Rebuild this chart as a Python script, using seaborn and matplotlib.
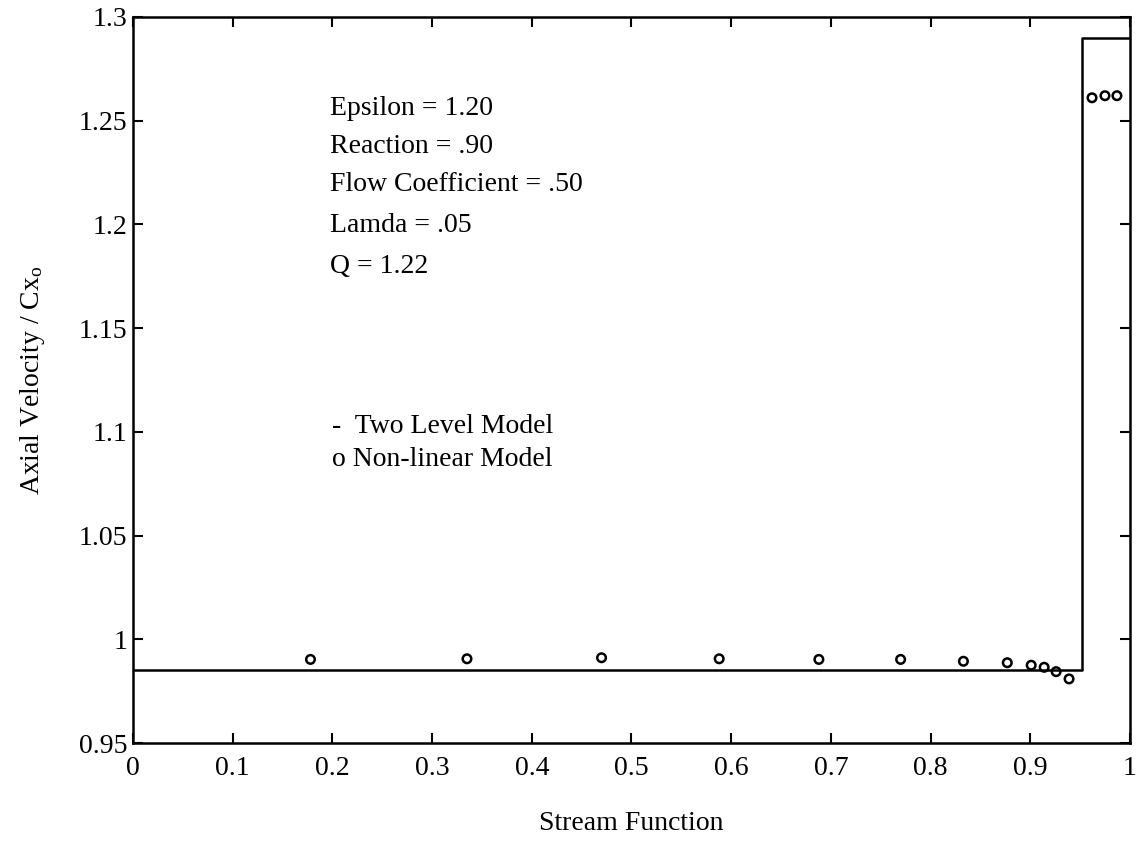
import numpy as np
import pandas as pd
import matplotlib
matplotlib.use("Agg")
import matplotlib.pyplot as plt
import seaborn as sns

# Two level model (step line)
step_x = [0.0, 0.952, 1.0]
step_y = [0.985, 1.29, 1.29]

# Non-linear model points
nl_x = [0.178, 0.335, 0.470, 0.588, 0.688, 0.770, 0.833, 0.877, 0.901,
        0.914, 0.926, 0.939, 0.962, 0.975, 0.987]
nl_y = [0.9903, 0.9906, 0.9911, 0.9906, 0.9903, 0.9903, 0.9894, 0.9887,
        0.9875, 0.9865, 0.9844, 0.9809, 1.261, 1.262, 1.262]

xticks = [0, 0.1, 0.2, 0.3, 0.4, 0.5, 0.6, 0.7, 0.8, 0.9, 1]
xticklabels = ["0", "0.1", "0.2", "0.3", "0.4", "0.5", "0.6", "0.7", "0.8", "0.9", "1"]
yticks = [0.95, 1.0, 1.05, 1.1, 1.15, 1.2, 1.25, 1.3]
yticklabels = ["0.95", "1", "1.05", "1.1", "1.15", "1.2", "1.25", "1.3"]

params = ["Epsilon = 1.20", "Reaction = .90", "Flow Coefficient = .50",
          "Lamda = .05", "Q = 1.22"]
legend_lines = ["-  Two Level Model", "o Non-linear Model"]

sns.set_theme(style="ticks")
plt.rcParams["font.family"] = ["Liberation Serif", "DejaVu Serif"]
plt.rcParams["mathtext.fontset"] = "custom"
plt.rcParams["mathtext.rm"] = "Liberation Serif"
plt.rcParams["mathtext.it"] = "Liberation Serif:italic"
plt.rcParams["text.color"] = "black"
plt.rcParams["axes.labelcolor"] = "black"
plt.rcParams["xtick.color"] = "black"
plt.rcParams["ytick.color"] = "black"

fig = plt.figure(figsize=(11.39, 8.43), dpi=100)
ax = fig.add_axes([0.1168, 0.1186, 0.992 - 0.1168, 0.980 - 0.1186])

step_df = pd.DataFrame({"x": step_x, "y": step_y})
sns.lineplot(data=step_df, x="x", y="y", ax=ax, color="black", linewidth=1.8,
             drawstyle="steps-post", estimator=None, sort=False)

nl_df = pd.DataFrame({"x": nl_x, "y": nl_y})
sns.scatterplot(data=nl_df, x="x", y="y", ax=ax, marker="o", s=38,
                facecolors="none", edgecolors="black", linewidth=1.8)

ax.set_xlim(0, 1)
ax.set_ylim(0.95, 1.3)
ax.set_xticks(xticks)
ax.set_xticklabels(xticklabels)
ax.set_yticks(yticks)
ax.set_yticklabels(yticklabels)
ax.tick_params(direction="in", length=7, width=1.5, top=True, right=True,
               labelsize=20, colors="black")
ax.tick_params(axis="x", pad=9)
ax.tick_params(axis="y", pad=4)
for sp in ax.spines.values():
    sp.set_linewidth(1.8)
    sp.set_color("black")

ax.set_xlabel("Stream Function", fontsize=20, labelpad=22)
ax.set_ylabel("Axial Velocity / Cx$\\mathregular{_o}$", fontsize=20, labelpad=23)

ys = [1.2528, 1.2343, 1.2163, 1.1965, 1.1765]
for t, yv in zip(params, ys):
    ax.text(0.198, yv, t, fontsize=20, va="baseline", ha="left")
for t, yv in zip(legend_lines, [1.0994, 1.0833]):
    ax.text(0.200, yv, t, fontsize=20, va="baseline", ha="left")

fig.savefig("out.png", dpi=100)
